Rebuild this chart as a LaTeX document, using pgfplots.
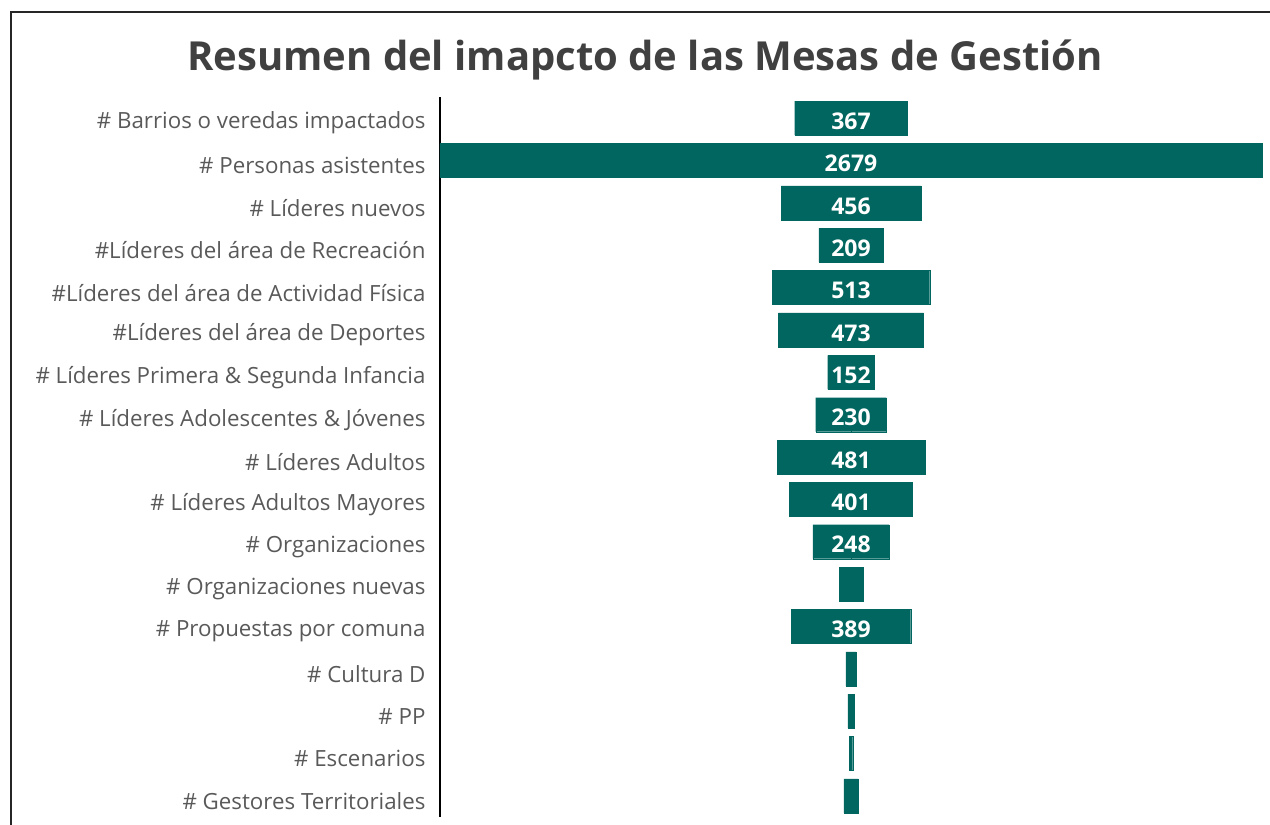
\documentclass[border=0pt]{standalone}
\usepackage{pgfplots}
\pgfplotsset{compat=1.18}
\usepackage{pgfplotstable}
\usepackage{fontspec}
\setmainfont{Open Sans}
\definecolor{barc}{HTML}{00665F}
\definecolor{txt}{HTML}{595959}
\definecolor{ttl}{HTML}{404040}
\pgfplotstableread{
idx v lab
0 367 367
1 2679 2679
2 456 456
3 209 209
4 513 513
5 473 473
6 152 152
7 230 230
8 481 481
9 401 401
10 248 248
11 78 {}
12 389 389
13 33 {}
14 20 {}
15 11 {}
16 46 {}
}\data
\begin{document}
\begin{tikzpicture}
\useasboundingbox (0pt,0pt) rectangle (1270pt,825pt);
\draw[line width=2pt, black!85] (11pt,0pt) -- (11pt,813pt) -- (1270pt,813pt);
\node[anchor=base, font=\fontsize{40}{44}\selectfont\bfseries, text=ttl] at (645pt,754pt) {Resumen del imapcto de las Mesas de Gestión};
\begin{axis}[at={(440pt,8pt)}, anchor=south west, scale only axis,
  width=822pt, height=720pt,
  xmin=-1339.5, xmax=1339.5, ymin=-0.5, ymax=16.5, y dir=reverse,
  axis x line=none, axis y line*=left,
  axis line style={line width=2pt, black},
  ytick={0,...,16},
  yticklabels={\# Barrios o veredas impactados, \# Personas asistentes, \# Líderes nuevos, \#Líderes del área de Recreación, \#Líderes del área de Actividad Física, \#Líderes del área de Deportes, \# Líderes Primera \& Segunda Infancia, \# Líderes Adolescentes \& Jóvenes, \# Líderes Adultos, \# Líderes Adultos Mayores, \# Organizaciones, \# Organizaciones nuevas, \# Propuestas por comuna, \# Cultura D, \# PP, \# Escenarios, \# Gestores Territoriales},
  major tick length=0pt,
  yticklabel style={font=\fontsize{22.3}{25}\selectfont, text=txt, xshift=-11pt, yshift=-5pt},
  clip=false]
\addplot[xbar, bar width=34pt, bar shift=0pt, fill=barc, draw=barc, line width=0.3pt] table[x expr=\thisrow{v}/2, y=idx]{\data};
\addplot[xbar, bar width=34pt, bar shift=0pt, fill=barc, draw=barc, line width=0.3pt] table[x expr=-\thisrow{v}/2, y=idx]{\data};
\addplot[only marks, mark=none, point meta=explicit symbolic, nodes near coords, nodes near coords align=center,
  every node near coord/.append style={font=\fontsize{23}{26}\selectfont\bfseries, text=white, anchor=center, yshift=-3pt}]
  table[x expr=0, y=idx, meta=lab]{\data};
\end{axis}
\end{tikzpicture}
\end{document}
